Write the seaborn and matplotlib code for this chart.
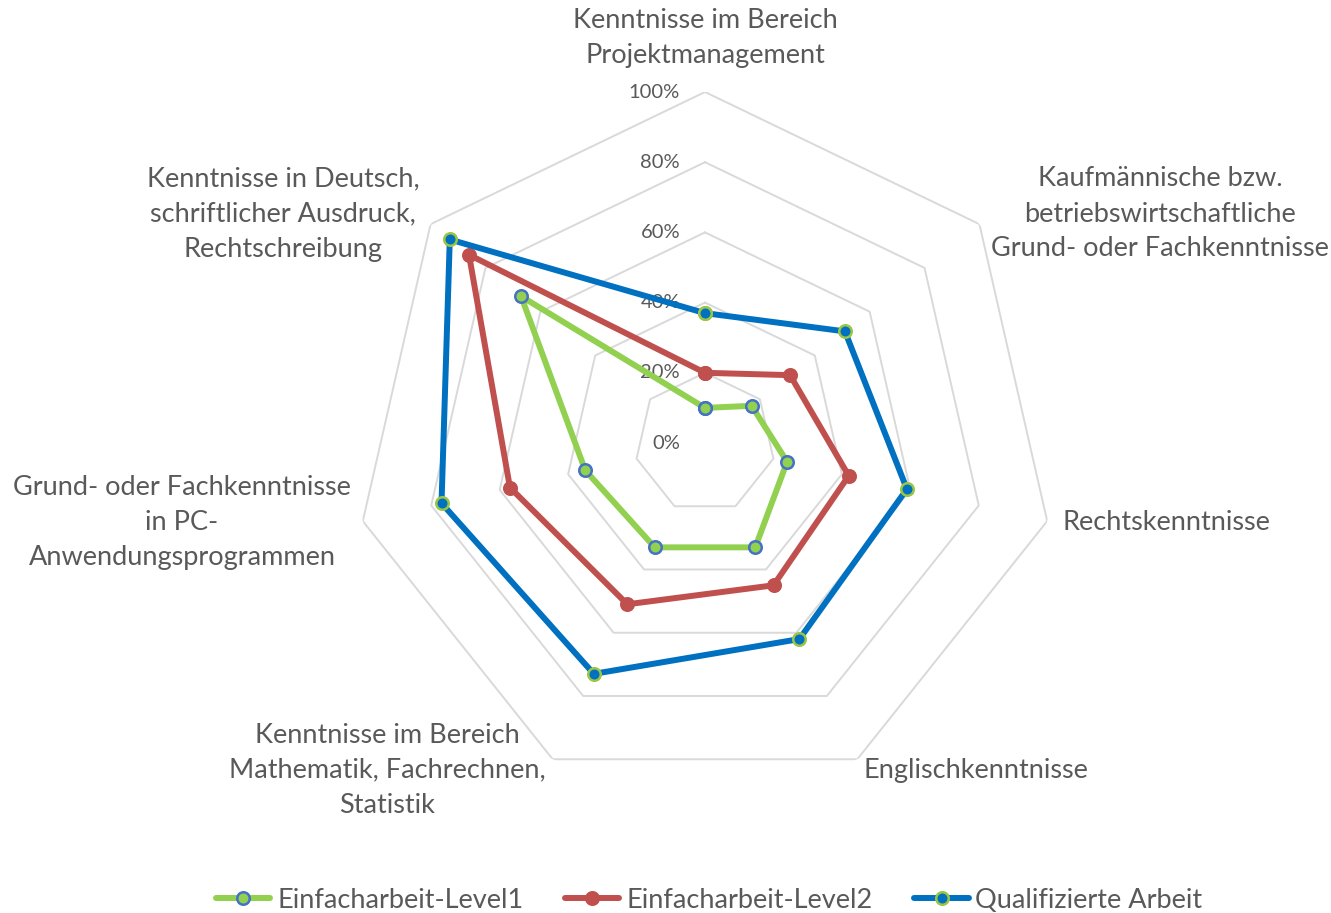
import numpy as np
import pandas as pd
import matplotlib
matplotlib.use('Agg')
import matplotlib.pyplot as plt
import matplotlib.transforms as mtransforms
from matplotlib.lines import Line2D
import seaborn as sns

# ── DATEN ─────────────────────────────────────────────────────────────────────
kategorien = [
    'Kenntnisse im Bereich\nProjektmanagement',
    'Kaufmännische bzw.\nbetriebswirtschaftliche\nGrund- oder Fachkenntnisse',
    'Rechtskenntnisse',
    'Englischkenntnisse',
    'Kenntnisse im Bereich\nMathematik, Fachrechnen,\nStatistik',
    'Grund- oder Fachkenntnisse\nin PC-\nAnwendungsprogrammen',
    'Kenntnisse in Deutsch,\nschriftlicher Ausdruck,\nRechtschreibung',
]
serien = ['Einfacharbeit-Level1', 'Einfacharbeit-Level2', 'Qualifizierte Arbeit']
level1 = [0.10, 0.17, 0.24, 0.33, 0.33, 0.35, 0.67]
level2 = [0.20, 0.31, 0.42, 0.45, 0.51, 0.57, 0.86]
qualifiziert = [0.37, 0.51, 0.59, 0.62, 0.73, 0.77, 0.93]
ticks = [0, 20, 40, 60, 80, 100]

# ── STIL ──────────────────────────────────────────────────────────────────────
sns.set_style('white')
plt.rcParams['font.family'] = ['Lato', 'DejaVu Sans']
textfarbe = '#595959'
farben = {'Einfacharbeit-Level1': ('#92D050', '#4472C4'),
          'Einfacharbeit-Level2': ('#C0504D', '#C0504D'),
          'Qualifizierte Arbeit': ('#0070C0', '#9BC544')}

n = len(kategorien)
winkel = np.linspace(0, 2 * np.pi, n, endpoint=False)
winkel_zu = np.append(winkel, 2 * np.pi)

rows = []
for name, werte in zip(serien, [level1, level2, qualifiziert]):
    for i, w in enumerate(list(werte) + [werte[0]]):
        rows.append({'serie': name, 'theta': winkel_zu[i], 'wert': w, 'ord': i})
df = pd.DataFrame(rows)

W, H = 1331, 913
fig = plt.figure(figsize=(W / 100, H / 100), dpi=100)
cx, cy, rad = 705, 443, 351
ax = fig.add_axes([(cx - rad) / W, (H - cy - rad) / H, 2 * rad / W, 2 * rad / H],
                  projection='polar')
ax.set_theta_zero_location('N')
ax.set_theta_direction(-1)
ax.set_facecolor('none')

# Siebeneck-Gitter
for r in ticks[1:]:
    ax.plot(winkel_zu, [r / 100] * (n + 1), color='#D9D9D9', lw=1.4, zorder=1)

for name in serien:
    linie, rand = farben[name]
    sub = df[df['serie'] == name].sort_values('ord')
    sns.lineplot(data=sub, x='theta', y='wert', sort=False, estimator=None,
                 color=linie, lw=4.3, marker='o', markersize=9,
                 markerfacecolor=linie, markeredgecolor=rand, markeredgewidth=1.8,
                 ax=ax, zorder=3, clip_on=False)

ax.set_ylim(0, 1)
ax.grid(False)
ax.spines['polar'].set_visible(False)
ax.set_xticks([])
ax.set_yticks([])
ax.set_xlabel('')
ax.set_ylabel('')

# Prozent-Beschriftung
trans = mtransforms.offset_copy(ax.transData, fig=fig, x=-25, y=0, units='dots')
for t in ticks:
    ax.text(0, t / 100, f'{t}%', transform=trans, ha='right', va='center',
            fontsize=14.5, color=textfarbe, zorder=2)

# Kategorie-Beschriftung
label_pos = [(705, 38), (1160, 214), (1166, 522), (976, 770),
             (387, 770), (182, 522), (283, 214)]
for txt, (px, py) in zip(kategorien, label_pos):
    fig.text(px / W, 1 - py / H, txt, ha='center', va='center',
             fontsize=19.5, color=textfarbe, linespacing=1.5, multialignment='center')

# Legende
handles = [Line2D([], [], color=farben[s][0], lw=4.3, marker='o', markersize=9,
                  markerfacecolor=farben[s][0], markeredgecolor=farben[s][1],
                  markeredgewidth=1.8) for s in serien]
leg = fig.legend(handles, serien, loc='center', bbox_to_anchor=(0.533, 1 - 900 / H),
                 ncol=3, frameon=False, fontsize=19.5, handlelength=2.0,
                 handletextpad=0.25, columnspacing=1.55)
for t in leg.get_texts():
    t.set_color(textfarbe)

plt.savefig('out.png', dpi=100)
plt.close()
